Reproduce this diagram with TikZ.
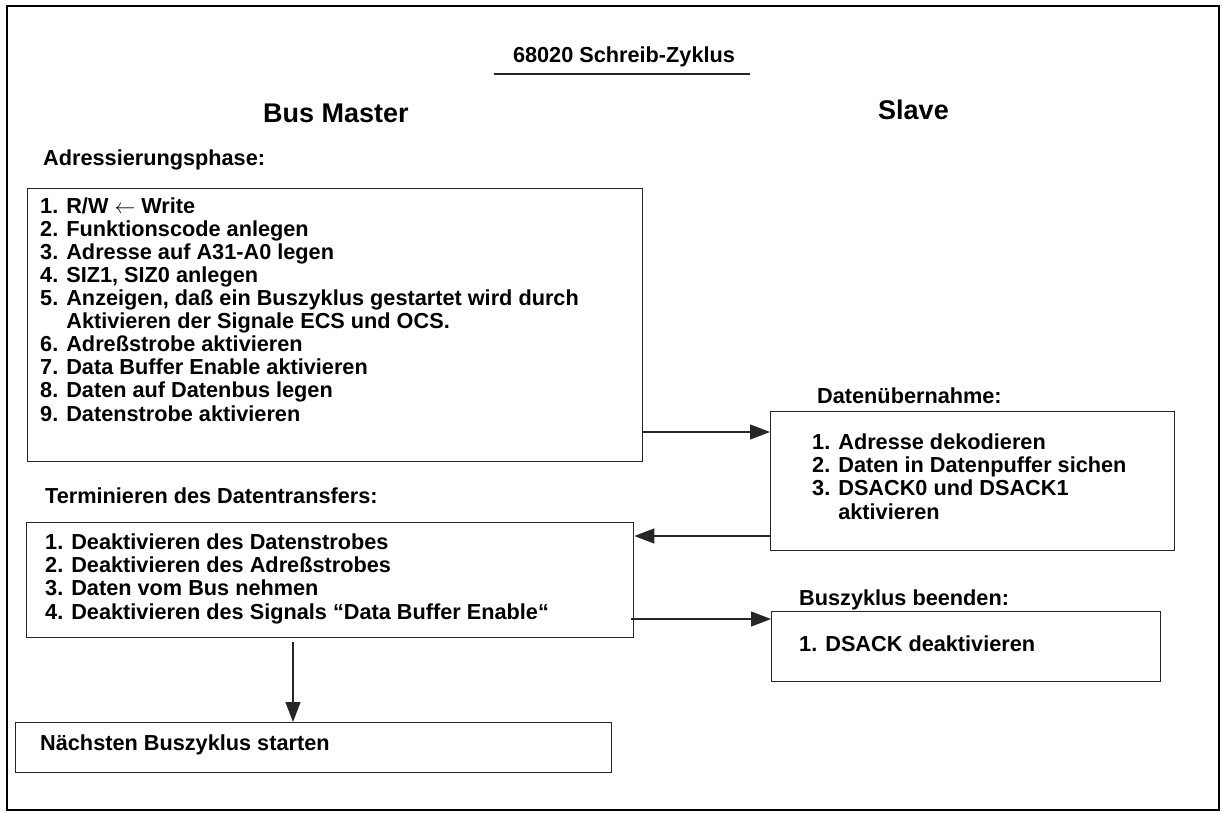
\documentclass[tikz,border=0pt]{standalone}
\usepackage{fontspec}
\setmainfont{Liberation Sans}
\usetikzlibrary{arrows.meta,positioning}
\tikzset{
  frame/.style={draw=black, line width=2.4pt},
  stepbox/.style={draw=black!85, line width=1.3pt, anchor=north west, inner sep=0pt},
  phasetext/.style={anchor=base west, inner sep=0pt,
                    font=\bfseries\fontsize{21.7}{23.1}\selectfont},
  listtext/.style={phasetext, align=left},
  bigtext/.style={anchor=base west, inner sep=0pt,
                  font=\bfseries\fontsize{27}{30}\selectfont},
  arrow/.style={-{Triangle[length=20pt,width=15pt]}, line width=1.3pt, draw=black!85}
}

\begin{document}
\begin{tikzpicture}[x=1pt, y=-1pt]
  \useasboundingbox (0,0) rectangle (1223,812);
  \draw[frame] (7,6) rectangle (1219,810);

  % headings
  \node[phasetext, anchor=base] (title) at (624,62) {68020 Schreib-Zyklus};
  \draw[line width=1.4pt, draw=black!85] ([xshift=-19pt,yshift=-12pt]title.base west)
    -- ([xshift=15pt,yshift=-12pt]title.base east);
  \node[bigtext] (master) at (263,122) {Bus Master};
  \node[bigtext] (slave) at (878,119) {Slave};

  % boxes
  \node[stepbox, minimum width=615pt, minimum height=273pt] (addr) at (27,188) {};
  \node[stepbox, minimum width=404pt, minimum height=139pt] (take) at (770,411) {};
  \node[stepbox, minimum width=607pt, minimum height=115pt] (term) at (26,522) {};
  \node[stepbox, minimum width=389pt, minimum height=70pt] (stop) at (771,611) {};
  \node[stepbox, minimum width=596pt, minimum height=50pt] (next) at (15,722) {};

  % box titles and texts (lists sit on the baseline of their last line)
  \node[phasetext] (addrhead) at (43,165) {Adressierungsphase:};
  \node[listtext] (addrlist) at (40,421) {1. R/W $\leftarrow$ Write\\
    2. Funktionscode anlegen\\
    3. Adresse auf A31-A0 legen\\
    4. SIZ1, SIZ0 anlegen\\
    5. Anzeigen, daß ein Buszyklus gestartet wird durch\\
    \phantom{5. }Aktivieren der Signale ECS und OCS.\\
    6. Adreßstrobe aktivieren\\
    7. Data Buffer Enable aktivieren\\
    8. Daten auf Datenbus legen\\
    9. Datenstrobe aktivieren};
  \node[phasetext] (takehead) at (817,403) {Datenübernahme:};
  \node[listtext] (takelist) at (812,519) {1. Adresse dekodieren\\
    2. Daten in Datenpuffer sichen\\
    3. DSACK0 und DSACK1\\
    \phantom{3. }aktivieren};
  \node[phasetext] (termhead) at (45,503) {Terminieren des Datentransfers:};
  \node[listtext] (termlist) at (45,619) {1. Deaktivieren des Datenstrobes\\
    2. Deaktivieren des Adreßstrobes\\
    3. Daten vom Bus nehmen\\
    4. Deaktivieren des Signals “Data Buffer Enable“};
  \node[phasetext] (stophead) at (799,605) {Buszyklus beenden:};
  \node[phasetext] (stoptext) at (799,651) {1. DSACK deaktivieren};
  \node[phasetext] (nexttext) at (40,750) {Nächsten Buszyklus starten};

  % connectors
  \coordinate (r1) at (0,432);
  \coordinate (r2) at (0,536);
  \coordinate (r3) at (0,619);
  \coordinate (c1) at (293,0);
  \draw[arrow] (addr.east |- r1) -- (take.west |- r1);
  \draw[arrow] (take.west |- r2) -- (term.east |- r2);
  \draw[arrow] ([xshift=-3pt]term.east |- r3) -- (stop.west |- r3);
  \draw[arrow] ([yshift=-4pt]c1 |- term.south) -- (c1 |- next.north);
\end{tikzpicture}
\end{document}
